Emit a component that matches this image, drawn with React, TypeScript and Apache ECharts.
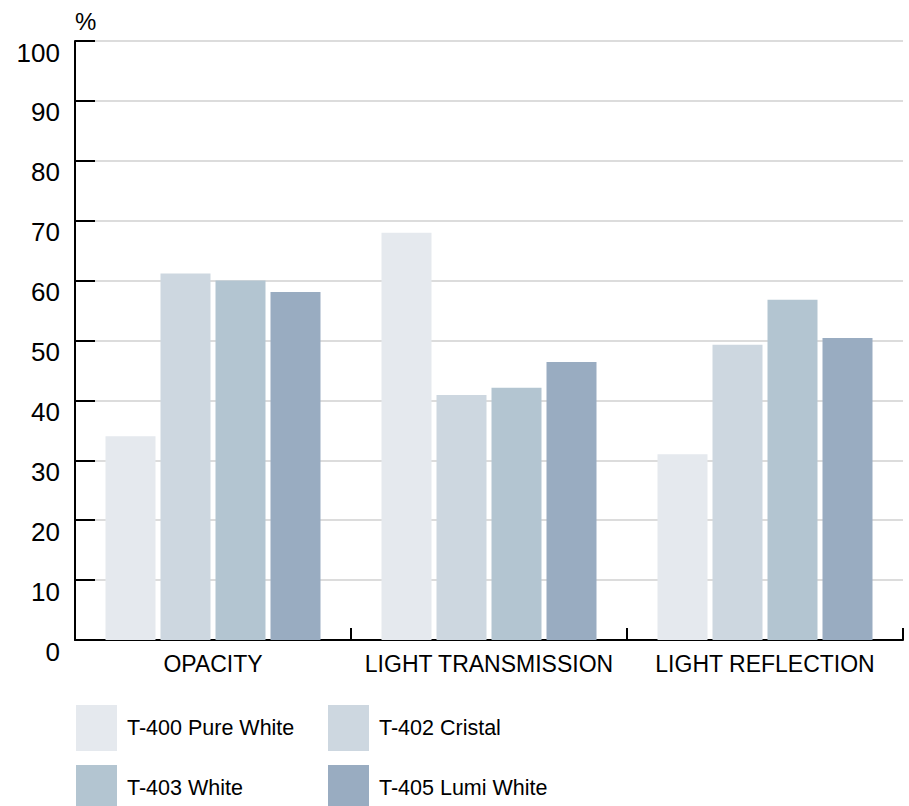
import React, { useEffect, useRef } from "react";
import * as echarts from "echarts";

const categories = ["OPACITY", "LIGHT TRANSMISSION", "LIGHT REFLECTION"];
const seriesNames = ["T-400 Pure White", "T-402 Cristal", "T-403 White", "T-405 Lumi White"];
const pureWhite = [34, 68, 31];
const cristal = [61.2, 40.9, 49.3];
const white = [60, 42.1, 56.8];
const lumiWhite = [58.1, 46.4, 50.4];
const colors = ["#e5e9ee", "#cdd7e0", "#b3c5d1", "#99acc1"];
const yTicks = { min: 0, max: 100, interval: 10 };

const FONT = "'Liberation Sans', Arial, sans-serif";

// legend placement: [left, top] for each series' legend entry
const legendSpots = [
  [76, 705],
  [328, 705],
  [76, 765],
  [328, 765],
];

export default function App() {
  const ref = useRef<HTMLDivElement>(null);
  useEffect(() => {
    if (!ref.current) return;
    const chart = echarts.init(ref.current, undefined, { renderer: "svg" });
    const values = [pureWhite, cristal, white, lumiWhite];
    chart.setOption({
      animation: false,
      textStyle: { fontFamily: FONT },
      grid: { left: 75, top: 41, width: 828, height: 599 },
      legend: seriesNames.map((name, i) => ({
        left: legendSpots[i][0],
        top: legendSpots[i][1],
        padding: 0,
        orient: "horizontal",
        itemWidth: 41,
        itemHeight: 46,
        icon: "rect",
        selectedMode: false,
        data: [name],
        textStyle: { fontFamily: FONT, fontSize: 21.5, color: "#000", padding: [0, 0, 0, 5] },
      })),
      xAxis: {
        type: "category",
        data: categories,
        axisLine: { lineStyle: { color: "#000", width: 2 } },
        axisTick: { show: true, interval: 0, inside: true, length: 12, lineStyle: { color: "#000", width: 2 } },
        axisLabel: { interval: 0, fontFamily: FONT, fontSize: 23, color: "#000", margin: 12, lineHeight: 24 },
      },
      yAxis: {
        type: "value",
        min: yTicks.min,
        max: yTicks.max,
        interval: yTicks.interval,
        name: "%",
        nameLocation: "end",
        nameGap: 8,
        nameTextStyle: { fontFamily: FONT, fontSize: 24, color: "#000", align: "left", verticalAlign: "bottom" },
        axisLine: { show: true, lineStyle: { color: "#000", width: 2 } },
        axisTick: { show: true, inside: true, length: 20, lineStyle: { color: "#000", width: 2 } },
        axisLabel: {
          fontFamily: FONT, fontSize: 26, color: "#000", margin: 15,
          verticalAlign: "top", lineHeight: 23,
        },
        splitLine: { lineStyle: { color: "#d0d0d0", width: 1.5 } },
      },
      series: seriesNames.map((name, i) => ({
        name,
        type: "bar",
        data: values[i],
        barWidth: 50,
        barGap: "10%",
        itemStyle: { color: colors[i] },
      })),
    });
    return () => chart.dispose();
  }, []);
  return (
    <div
      ref={ref}
      style={{ position: "fixed", left: 0, top: 0, width: 909, height: 806, background: "#fff" }}
    />
  );
}
